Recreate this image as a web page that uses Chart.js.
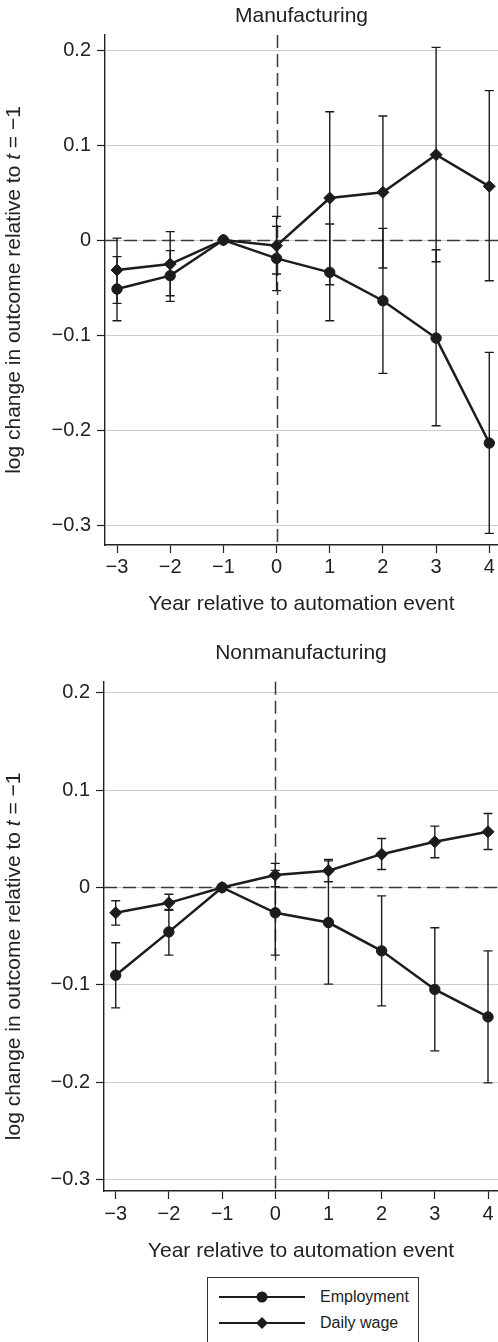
<!DOCTYPE html>
<html>
<head>
<meta charset="utf-8">
<script src="https://cdn.jsdelivr.net/npm/chart.js@4.4.1/dist/chart.umd.min.js"></script>
<style>
  html, body { margin: 0; padding: 0; background: #fff; width: 498px; height: 1342px; overflow: hidden; position: relative; }
  .panel { position: absolute; left: 0; }
  #legend { position: absolute; left: 207px; top: 1277px; width: 212px; height: 90px; border: 1px solid #333; box-sizing: border-box; background: #fff; font-family: "Liberation Sans", Arial, sans-serif; font-size: 16px; color: #222; }
  #legend .row { position: absolute; left: 0; height: 20px; width: 100%; }
  #legend svg { position: absolute; left: 11px; top: 0; }
  #legend span { position: absolute; left: 112px; top: 0; line-height: 20px; }
</style>
</head>
<body>
<div class="panel" style="top:0px"><canvas id="c1" width="498" height="625"></canvas></div>
<div class="panel" style="top:630px"><canvas id="c2" width="498" height="642"></canvas></div>
<div id="legend">
  <div class="row" style="top:9px">
    <svg width="88" height="20"><line x1="0" y1="10" x2="86" y2="10" stroke="#1c1c1c" stroke-width="2"/><circle cx="43" cy="10" r="5.5" fill="#1c1c1c"/></svg>
    <span>Employment</span>
  </div>
  <div class="row" style="top:35px">
    <svg width="88" height="20"><line x1="0" y1="10" x2="86" y2="10" stroke="#1c1c1c" stroke-width="2"/><polygon points="43,4 49,10 43,16 37,10" fill="#1c1c1c"/></svg>
    <span>Daily wage</span>
  </div>
</div>
<script>
// ---------------- data ----------------
const years = [-3, -2, -1, 0, 1, 2, 3, 4];
const xTickValues = [-3, -2, -1, 0, 1, 2, 3, 4];
const xTickLabels = ['\u22123', '\u22122', '\u22121', '0', '1', '2', '3', '4'];
const yTickValues = [-0.3, -0.2, -0.1, 0, 0.1, 0.2];
const yTickLabels = ['\u22120.3', '\u22120.2', '\u22120.1', '0', '0.1', '0.2'];
const seriesNames = ['Employment', 'Daily wage'];
const panelTitles = ['Manufacturing', 'Nonmanufacturing'];
const xAxisTitle = 'Year relative to automation event';

// Manufacturing
const mfgEmp     = [-0.0516, -0.0375, 0, -0.0193, -0.0340, -0.0639, -0.1032, -0.2137];
const mfgEmpLo   = [-0.0849, -0.0646, 0, -0.0533, -0.0849, -0.1404, -0.1955, -0.3088];
const mfgEmpHi   = [-0.0175, -0.0112, 0,  0.0144,  0.0168,  0.0123, -0.0102, -0.1183];
const mfgWage    = [-0.0316, -0.0253, 0, -0.0060,  0.0442,  0.0502,  0.0898,  0.0565];
const mfgWageLo  = [-0.0667, -0.0586, 0, -0.0358, -0.0470, -0.0295, -0.0228, -0.0428];
const mfgWageHi  = [ 0.0020,  0.0088, 0,  0.0249,  0.1350,  0.1305,  0.2028,  0.1572];

// Nonmanufacturing
const nonEmp     = [-0.0901, -0.0456, 0, -0.0260, -0.0360, -0.0651, -0.1047, -0.1329];
const nonEmpLo   = [-0.1236, -0.0695, 0, -0.0695, -0.0993, -0.1216, -0.1678, -0.2007];
const nonEmpHi   = [-0.0568, -0.0225, 0,  0.0175,  0.0273, -0.0086, -0.0414, -0.0651];
const nonWage    = [-0.0260, -0.0158, 0,  0.0127,  0.0172,  0.0342,  0.0469,  0.0572];
const nonWageLo  = [-0.0387, -0.0235, 0,  0.0007,  0.0058,  0.0185,  0.0305,  0.0390];
const nonWageHi  = [-0.0137, -0.0069, 0,  0.0247,  0.0288,  0.0503,  0.0630,  0.0760];

// ---------------- styling ----------------
const FONT = '"Liberation Sans", Arial, Helvetica, sans-serif';
const INK = '#1c1c1c';
const TEXT = '#222222';

const pts = (ys) => years.map((x, i) => ({ x: x, y: ys[i] }));

// error bars + reference lines
const refAndErr = {
  id: 'refAndErr',
  beforeDatasetsDraw(chart) {
    const { ctx, chartArea, scales } = chart;
    const xs = scales.x, ysc = scales.y;
    ctx.save();
    ctx.strokeStyle = '#3a3a3a';
    ctx.lineWidth = 1.5;
    ctx.setLineDash([13, 6]);
    const y0 = Math.round(ysc.getPixelForValue(0)) + 0.5;
    ctx.beginPath(); ctx.moveTo(chartArea.left, y0); ctx.lineTo(chartArea.right, y0); ctx.stroke();
    const x0 = Math.round(xs.getPixelForValue(0)) + 0.5;
    ctx.beginPath(); ctx.moveTo(x0, chartArea.top); ctx.lineTo(x0, chartArea.bottom); ctx.stroke();
    ctx.setLineDash([]);
    ctx.strokeStyle = INK;
    ctx.lineWidth = 1.4;
    chart.data.datasets.forEach(ds => {
      ds.errLo.forEach((lo, i) => {
        const hi = ds.errHi[i];
        if (lo === hi) return;
        const px = xs.getPixelForValue(ds.data[i].x);
        const pl = ysc.getPixelForValue(lo), ph = ysc.getPixelForValue(hi);
        ctx.beginPath();
        ctx.moveTo(px, pl); ctx.lineTo(px, ph);
        ctx.moveTo(px - 4.5, pl); ctx.lineTo(px + 4.5, pl);
        ctx.moveTo(px - 4.5, ph); ctx.lineTo(px + 4.5, ph);
        ctx.stroke();
      });
    });
    ctx.restore();
  }
};

// y-axis title with italic t
const yTitle = {
  id: 'yTitle',
  afterDraw(chart, args, opts) {
    const { ctx, chartArea } = chart;
    const segs = [
      { t: 'log change in outcome relative to ', f: '21px ' + FONT },
      { t: 't', f: 'italic 21px ' + FONT },
      { t: ' = \u22121', f: '21px ' + FONT }
    ];
    ctx.save();
    let total = 0;
    segs.forEach(s => { ctx.font = s.f; s.w = ctx.measureText(s.t).width; total += s.w; });
    ctx.translate(opts.x, (chartArea.top + chartArea.bottom) / 2 + (opts.dy || 0));
    ctx.rotate(-Math.PI / 2);
    ctx.textBaseline = 'middle';
    ctx.textAlign = 'left';
    ctx.fillStyle = TEXT;
    let cx = -total / 2;
    segs.forEach(s => { ctx.font = s.f; ctx.fillText(s.t, cx, 0); cx += s.w; });
    ctx.restore();
  }
};

function makeChart(id, title, emp, empLo, empHi, wage, wageLo, wageHi, cfg) {
  return new Chart(document.getElementById(id), {
    type: 'line',
    data: {
      datasets: [
        { label: seriesNames[0], data: pts(emp), errLo: empLo, errHi: empHi,
          borderColor: INK, backgroundColor: INK, borderWidth: 2.5,
          pointStyle: 'circle', pointRadius: 5.2, pointBorderWidth: 1, pointBackgroundColor: INK, pointBorderColor: INK,
          tension: 0, clip: false },
        { label: seriesNames[1], data: pts(wage), errLo: wageLo, errHi: wageHi,
          borderColor: INK, backgroundColor: INK, borderWidth: 2.5,
          pointStyle: 'rectRot', pointRadius: 6, pointBorderWidth: 1, pointBackgroundColor: INK, pointBorderColor: INK,
          tension: 0, clip: false }
      ]
    },
    options: {
      responsive: false,
      animation: false,
      devicePixelRatio: 1,
      layout: { padding: 0, autoPadding: false },
      plugins: {
        legend: { display: false },
        tooltip: { enabled: false },
        title: { display: true, text: title, fullSize: false, color: TEXT,
                 font: { family: FONT, size: 21, weight: 'normal' },
                 padding: { top: cfg.titlePadTop, bottom: cfg.titlePadBottom } },
        yTitle: { x: 14.6, dy: cfg.yTitleDy }
      },
      scales: {
        x: {
          type: 'linear', min: cfg.xMin, max: cfg.xMax,
          afterBuildTicks: (s) => { s.ticks = xTickValues.map(v => ({ value: v })); },
          afterFit: (s) => { s.height = cfg.xAxisHeight; s.paddingLeft = 0; s.paddingRight = 0; },
          ticks: { color: TEXT, font: { family: FONT, size: 20 }, padding: cfg.xTickPad,
                   autoSkip: false, maxRotation: 0,
                   callback: (v, i) => xTickLabels[i] },
          grid: { drawOnChartArea: false, drawTicks: true, tickLength: 8, tickColor: '#222', tickWidth: 1.2 },
          border: { display: true, color: '#222', width: 1.4 },
          title: { display: true, text: xAxisTitle, color: TEXT,
                   font: { family: FONT, size: 21 }, padding: { top: 0, bottom: cfg.xTitlePadBottom } }
        },
        y: {
          type: 'linear', min: cfg.yMin, max: cfg.yMax,
          afterBuildTicks: (s) => { s.ticks = yTickValues.map(v => ({ value: v })); },
          afterFit: (s) => { s.width = cfg.yAxisWidth; s.paddingTop = 0; s.paddingBottom = 0; },
          ticks: { color: TEXT, font: { family: FONT, size: 20 }, padding: 6,
                   callback: (v, i) => yTickLabels[i] },
          grid: { color: '#cccccc', lineWidth: 1, drawTicks: true, tickLength: 8, tickColor: '#222', tickWidth: 1.2 },
          border: { display: true, color: '#222', width: 1.4 }
        }
      }
    },
    plugins: [refAndErr, yTitle]
  });
}

makeChart('c1', panelTitles[0], mfgEmp, mfgEmpLo, mfgEmpHi, mfgWage, mfgWageLo, mfgWageHi, {
  xMin: -3.226, xMax: 4.164, yMin: -0.321, yMax: 0.2158,
  xAxisHeight: 80, yAxisWidth: 105, titlePadTop: 3.4, titlePadBottom: 6.4,
  xTickPad: 2, xTitlePadBottom: 8, yTitleDy: 0
});
makeChart('c2', panelTitles[1], nonEmp, nonEmpLo, nonEmpHi, nonWage, nonWageLo, nonWageHi, {
  xMin: -3.22, xMax: 4.188, yMin: -0.3117, yMax: 0.2113,
  xAxisHeight: 81, yAxisWidth: 104, titlePadTop: 10.4, titlePadBottom: 16.1,
  xTickPad: 3, xTitlePadBottom: 8.6, yTitleDy: 20
});
</script>
</body>
</html>
